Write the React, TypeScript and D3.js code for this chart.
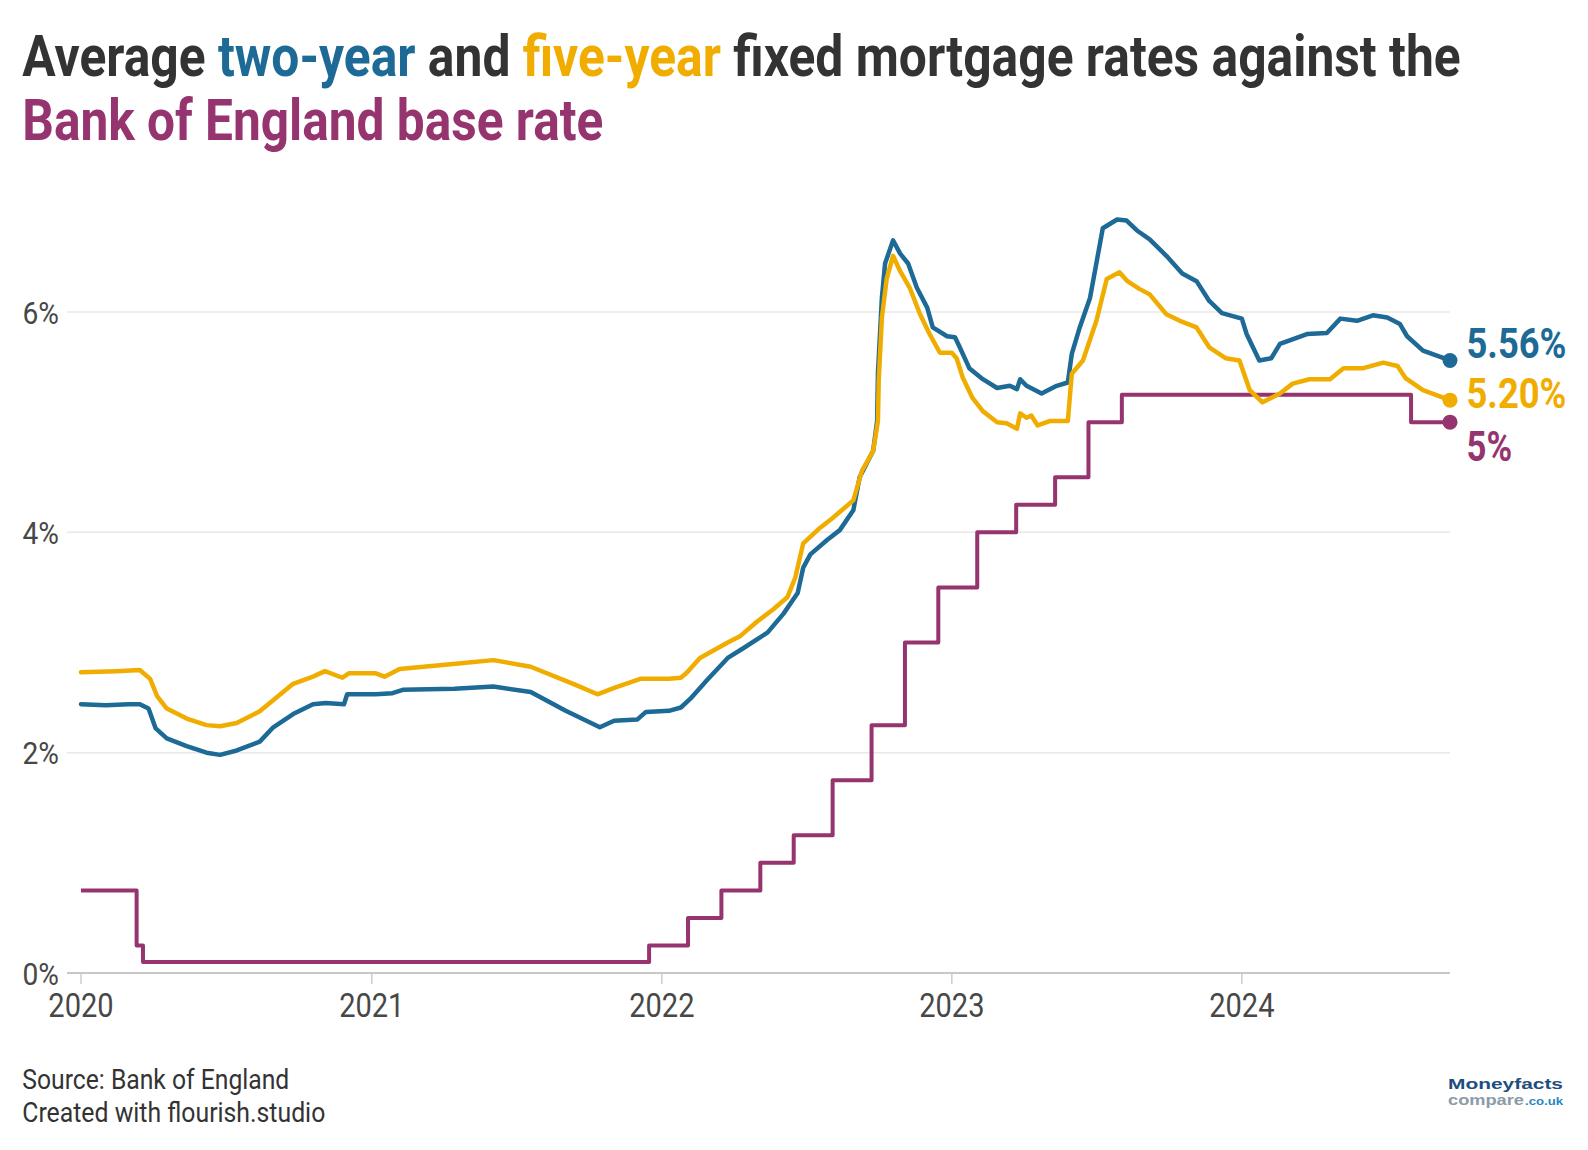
import React, { useLayoutEffect, useRef, useState } from "react";
import * as d3 from "d3";

// ---------- data ----------
const twoYearDates = [
  "2020-01-01","2020-02-01","2020-03-01","2020-03-15","2020-03-26","2020-04-04","2020-04-18","2020-05-13",
  "2020-06-07","2020-06-24","2020-07-15","2020-08-13","2020-08-30","2020-09-24","2020-10-19","2020-11-04",
  "2020-11-27","2020-12-01","2021-01-06","2021-01-27","2021-02-09","2021-04-15","2021-06-03","2021-07-20",
  "2021-09-02","2021-10-15","2021-11-02","2021-12-01","2021-12-12","2022-01-10","2022-01-25","2022-02-06",
  "2022-02-27","2022-03-25","2022-04-14","2022-05-14","2022-06-03","2022-06-21","2022-06-28","2022-07-07",
  "2022-07-28","2022-08-13","2022-08-30","2022-09-07","2022-09-24","2022-09-29","2022-09-30","2022-10-05",
  "2022-10-09","2022-10-19","2022-10-28","2022-11-07","2022-11-18","2022-12-01","2022-12-08","2022-12-26",
  "2023-01-05","2023-01-11","2023-01-23","2023-02-09","2023-02-27","2023-03-15","2023-03-24","2023-03-28",
  "2023-04-05","2023-04-24","2023-05-13","2023-05-27","2023-06-01","2023-06-11","2023-06-24","2023-07-10",
  "2023-07-28","2023-08-09","2023-08-22","2023-09-07","2023-09-28","2023-10-18","2023-11-05","2023-11-21",
  "2023-12-07","2024-01-01","2024-01-07","2024-01-23","2024-02-07","2024-02-18","2024-03-23","2024-04-17",
  "2024-05-04","2024-05-25","2024-06-14","2024-07-02","2024-07-18","2024-07-27","2024-08-16","2024-09-19"
];
const twoYearValues = [
  2.44,2.43,2.44,2.44,2.40,2.22,2.13,2.06,
  2.00,1.98,2.02,2.10,2.23,2.35,2.44,2.45,
  2.44,2.53,2.53,2.54,2.57,2.58,2.60,2.55,
  2.38,2.23,2.29,2.30,2.37,2.38,2.41,2.49,
  2.66,2.86,2.95,3.09,3.26,3.45,3.68,3.80,
  3.93,4.02,4.20,4.50,4.74,5.01,5.44,6.13,
  6.44,6.65,6.53,6.44,6.22,6.04,5.86,5.78,
  5.77,5.68,5.49,5.39,5.31,5.33,5.30,5.39,
  5.33,5.26,5.33,5.36,5.62,5.86,6.13,6.76,
  6.84,6.83,6.74,6.66,6.51,6.35,6.28,6.10,
  5.99,5.94,5.80,5.56,5.58,5.71,5.80,5.81,
  5.94,5.92,5.97,5.95,5.89,5.78,5.65,5.56
];

const fiveYearDates = [
  "2020-01-01","2020-02-15","2020-03-15","2020-03-28","2020-04-06","2020-04-18","2020-05-13","2020-06-07",
  "2020-06-24","2020-07-15","2020-08-13","2020-09-03","2020-09-24","2020-10-19","2020-11-03","2020-11-25",
  "2020-12-03","2021-01-06","2021-01-17","2021-02-05","2021-04-20","2021-06-03","2021-07-20","2021-09-13",
  "2021-10-12","2021-11-03","2021-12-05","2022-01-10","2022-01-25","2022-02-02","2022-02-18","2022-03-25",
  "2022-04-10","2022-05-01","2022-05-21","2022-06-08","2022-06-18","2022-06-28","2022-07-19","2022-08-04",
  "2022-08-30","2022-09-10","2022-09-24","2022-09-30","2022-10-01","2022-10-05","2022-10-11","2022-10-19",
  "2022-10-28","2022-11-09","2022-11-22","2022-12-04","2022-12-17","2023-01-01","2023-01-07","2023-01-15",
  "2023-01-27","2023-02-09","2023-02-27","2023-03-11","2023-03-24","2023-03-28","2023-04-05","2023-04-11",
  "2023-04-19","2023-05-04","2023-05-27","2023-06-01","2023-06-15","2023-07-02","2023-07-15","2023-07-31",
  "2023-08-10","2023-08-25","2023-09-07","2023-09-28","2023-10-15","2023-11-05","2023-11-21","2023-12-12",
  "2023-12-29","2024-01-11","2024-01-27","2024-02-18","2024-03-05","2024-03-26","2024-04-21","2024-05-08",
  "2024-06-02","2024-06-27","2024-07-15","2024-07-25","2024-08-16","2024-09-19"
];
const fiveYearValues = [
  2.73,2.74,2.75,2.67,2.51,2.40,2.31,2.25,
  2.24,2.27,2.375,2.50,2.625,2.69,2.74,2.68,
  2.72,2.72,2.69,2.76,2.81,2.84,2.78,2.62,
  2.53,2.59,2.67,2.67,2.68,2.73,2.86,3.00,
  3.06,3.19,3.30,3.41,3.59,3.90,4.04,4.13,
  4.29,4.56,4.74,5.01,5.38,5.95,6.30,6.51,
  6.37,6.22,5.98,5.80,5.63,5.63,5.58,5.40,
  5.22,5.10,5.00,4.99,4.94,5.08,5.04,5.06,
  4.97,5.01,5.01,5.44,5.56,5.92,6.30,6.36,
  6.28,6.21,6.16,5.98,5.92,5.86,5.68,5.58,
  5.56,5.29,5.18,5.26,5.35,5.39,5.39,5.49,
  5.49,5.54,5.51,5.40,5.29,5.20
];

const baseRateDates = [
  "2020-01-01","2020-03-11","2020-03-19","2021-12-16","2022-02-03","2022-03-17","2022-05-05","2022-06-16",
  "2022-08-04","2022-09-22","2022-11-03","2022-12-15","2023-02-02","2023-03-23","2023-05-11","2023-06-22",
  "2023-08-03","2024-08-01","2024-09-19"
];
const baseRateValues = [
  0.75,0.25,0.1,0.25,0.5,0.75,1.0,1.25,
  1.75,2.25,3.0,3.5,4.0,4.25,4.5,5.0,
  5.25,5.0,5.0
];

const yTicks = [0, 2, 4, 6];
const xTickYears = [2020, 2021, 2022, 2023, 2024];
const endLabels = ["5.56%", "5.20%", "5%"];

// ---------- styles ----------
const BLUE = "#1d6a96";
const YELLOW = "#f0ad00";
const PURPLE = "#95346e";
const DARK = "#333333";
const FONT = "Roboto, 'Noto Sans', sans-serif";
const LOGO_FONT = "'Liberation Sans', Arial, sans-serif";

const parse = d3.timeParse("%Y-%m-%d");
type Pt = { d: Date; v: number };
const zip = (ds: string[], vs: number[]): Pt[] => ds.map((s, i) => ({ d: parse(s) as Date, v: vs[i] }));

const twoYear = zip(twoYearDates, twoYearValues);
const fiveYear = zip(fiveYearDates, fiveYearValues);
const baseRate = zip(baseRateDates, baseRateValues);

export default function App() {
  const W = 1588, H = 1150;
  const t1 = useRef<SVGTextElement>(null);
  const t2 = useRef<SVGTextElement>(null);
  const [s1, setS1] = useState(0.84);
  const [s2, setS2] = useState(0.84);
  useLayoutEffect(() => {
    if (t1.current) {
      const w = t1.current.getComputedTextLength();
      if (w > 0) setS1(1438 / w);
    }
    if (t2.current) {
      const w = t2.current.getComputedTextLength();
      if (w > 0) setS2(581 / w);
    }
  }, []);

  const x = d3.scaleTime()
    .domain([parse("2020-01-01") as Date, parse("2024-09-19") as Date])
    .range([81, 1450]);
  const y = d3.scaleLinear().domain([0, 6]).range([973, 312]);

  const line = d3.line<Pt>().x(p => x(p.d)).y(p => y(p.v));
  const stepLine = d3.line<Pt>().x(p => x(p.d)).y(p => y(p.v)).curve(d3.curveStepAfter);

  const lastTwo = twoYear[twoYear.length - 1];
  const lastFive = fiveYear[fiveYear.length - 1];
  const lastBase = baseRate[baseRate.length - 1];

  return (
    <svg width={W} height={H} style={{ position: "absolute", left: 0, top: 0, background: "#fff" }} fontFamily={FONT}>
      {/* Title */}
      <text ref={t1} transform={`translate(22.3,76) scale(${s1},1)`} fontSize={57} fontWeight={700} fill={DARK}>
        Average <tspan fill={BLUE}>two-year</tspan> and <tspan fill={YELLOW}>five-year</tspan> fixed mortgage rates against the
      </text>
      <text ref={t2} transform={`translate(22.3,140) scale(${s2},1)`} fontSize={57} fontWeight={700} fill={PURPLE}>
        Bank of England base rate
      </text>

      {/* gridlines */}
      {yTicks.filter(t => t > 0).map(t => (
        <line key={t} x1={67} x2={1450} y1={y(t)} y2={y(t)} stroke="#e8e8e8" strokeWidth={1.5} />
      ))}
      <line x1={67} x2={1450} y1={y(0)} y2={y(0)} stroke="#c8c8c8" strokeWidth={2} />
      {yTicks.map(t => (
        <text key={t} transform={`translate(59,${y(t) + 11.5}) scale(0.88,1)`} textAnchor="end" fontSize={32} fill="#474747">
          {t}%
        </text>
      ))}

      {/* x ticks */}
      {xTickYears.map(yr => {
        const xx = x(new Date(yr, 0, 1));
        return (
          <g key={yr}>
            <line x1={xx} x2={xx} y1={y(0)} y2={y(0) + 11} stroke="#cccccc" strokeWidth={1.5} />
            <text transform={`translate(${xx},${1017}) scale(0.88,1)`} textAnchor="middle" fontSize={33} fill="#474747">
              {yr}
            </text>
          </g>
        );
      })}

      {/* lines */}
      <path d={stepLine(baseRate) || ""} fill="none" stroke={PURPLE} strokeWidth={4} strokeLinejoin="round" />
      <path d={line(twoYear) || ""} fill="none" stroke={BLUE} strokeWidth={4.5} strokeLinejoin="round" strokeLinecap="round" />
      <path d={line(fiveYear) || ""} fill="none" stroke={YELLOW} strokeWidth={4.5} strokeLinejoin="round" strokeLinecap="round" />

      {/* end dots */}
      <circle cx={x(lastTwo.d)} cy={y(lastTwo.v)} r={7.5} fill={BLUE} />
      <circle cx={x(lastFive.d)} cy={y(lastFive.v)} r={7.5} fill={YELLOW} />
      <circle cx={x(lastBase.d)} cy={y(lastBase.v)} r={7.5} fill={PURPLE} />

      {/* end labels */}
      <text x={1466.5} y={357.5} fontSize={42} fontWeight={700} fill={BLUE} textLength={100} lengthAdjust="spacingAndGlyphs">{endLabels[0]}</text>
      <text x={1466.5} y={408} fontSize={42} fontWeight={700} fill={YELLOW} textLength={100} lengthAdjust="spacingAndGlyphs">{endLabels[1]}</text>
      <text x={1466.5} y={461} fontSize={42} fontWeight={700} fill={PURPLE} textLength={45.6} lengthAdjust="spacingAndGlyphs">{endLabels[2]}</text>

      {/* footer */}
      <text x={22.3} y={1089} fontSize={28} fill={DARK} textLength={267} lengthAdjust="spacingAndGlyphs">Source: Bank of England</text>
      <text x={22.3} y={1122} fontSize={28} fill={DARK} textLength={303} lengthAdjust="spacingAndGlyphs">Created with flourish.studio</text>

      {/* logo */}
      <text x={1448} y={1089} fontSize={15.5} fontWeight={700} fill="#1d4e7e" fontFamily={LOGO_FONT} textLength={115} lengthAdjust="spacingAndGlyphs">Moneyfacts</text>
      <text x={1448} y={1105} fontSize={14} fontWeight={700} fill="#8b9ba7" fontFamily={LOGO_FONT} textLength={76} lengthAdjust="spacingAndGlyphs">compare</text>
      <text x={1525} y={1105} fontSize={11.5} fontWeight={700} fill="#2a86c2" fontFamily={LOGO_FONT} textLength={38} lengthAdjust="spacingAndGlyphs">.co.uk</text>
    </svg>
  );
}
